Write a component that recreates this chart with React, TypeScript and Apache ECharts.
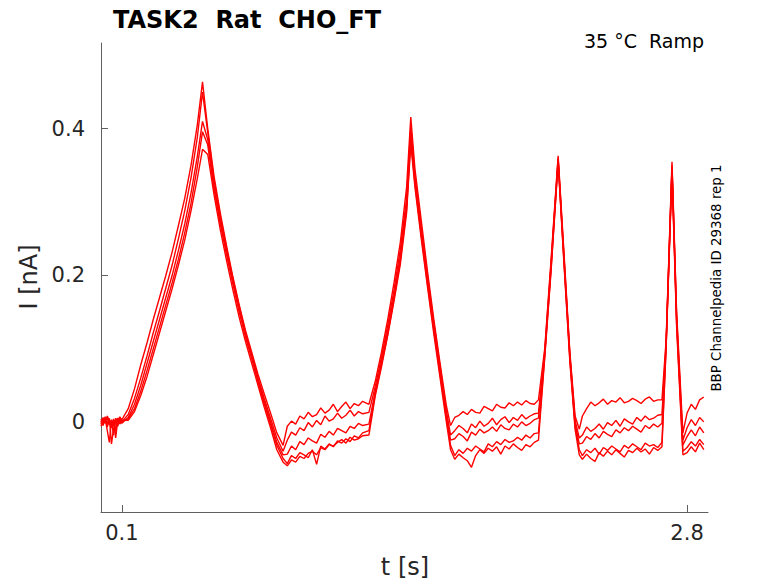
import { useEffect, useRef } from "react";
import * as echarts from "echarts";

// sample times [s], shared by all sweeps
const time = [
  0, 0.01, 0.02, 0.03, 0.04, 0.05, 0.06, 0.07, 0.08, 0.09, 0.1,
  0.13, 0.16, 0.19, 0.22, 0.25, 0.28, 0.31, 0.34, 0.37, 0.4, 0.43, 0.46, 0.485,
  0.51, 0.54, 0.57, 0.6, 0.63, 0.66, 0.69, 0.72, 0.75, 0.78, 0.81, 0.84, 0.87,
  0.89, 0.91, 0.93, 0.95, 0.97, 0.99, 1.01, 1.03, 1.05, 1.07, 1.09, 1.11, 1.13, 1.15, 1.17, 1.19, 1.21, 1.23, 1.25, 1.28,
  1.31, 1.34, 1.37, 1.4, 1.43, 1.46, 1.48,
  1.5, 1.53, 1.56, 1.59, 1.62, 1.65, 1.67,
  1.69, 1.71, 1.73, 1.75, 1.77, 1.79, 1.81, 1.83, 1.85, 1.87, 1.89, 1.91, 1.93, 1.95, 1.97, 1.99, 2.01, 2.03, 2.05, 2.07, 2.09,
  2.12, 2.15, 2.184,
  2.21, 2.24, 2.265, 2.285,
  2.3, 2.32, 2.34, 2.36, 2.38, 2.4, 2.42, 2.44, 2.46, 2.48, 2.5, 2.52, 2.54, 2.56, 2.58, 2.6, 2.62, 2.64, 2.66, 2.68,
  2.7, 2.728,
  2.75, 2.78,
  2.8, 2.82, 2.84, 2.86, 2.88,
];

// current of each sweep [pA]
const sweep1 = [
  2, -5, 4, -12, -28, 3, -6, 5, -2, 6, 3,
  18, 45, 78, 108, 140, 170, 200, 232, 268, 305, 350, 405, 464,
  400, 335, 285, 240, 198, 160, 125, 95, 65, 38, 12, -15, -32,
  -6, 1, -3, 8, 4, 13, 7, 10, 19, 12, 16, 24, 14, 21, 27, 18, 25, 22, 28, 24,
  55, 95, 140, 190, 245, 320, 416,
  345, 275, 205, 140, 80, 22, -5,
  6, 9, 14, 10, 17, 13, 12, 21, 18, 15, 24, 20, 19, 26, 22, 27, 23, 29, 25, 24, 30,
  100, 220, 363,
  240, 95, 8, -10,
  8, 18, 27, 22, 26, 31, 24, 29, 27, 33, 26, 28, 32, 29, 25, 31, 34, 28, 30, 30,
  112, 355,
  150, -15,
  12, 24, 17, 30, 34,
];

const sweep2 = [
  -3, 6, -2, 8, 1, -8, 4, -22, 2, 7, 0,
  10, 32, 60, 90, 122, 152, 183, 214, 250, 288, 333, 388, 450,
  395, 330, 280, 236, 195, 158, 122, 92, 60, 32, 5, -22, -40,
  -25, -14, -18, -8, -12, -1, -7, 2, -4, 8, 1, 4, 12, 5, 9, 16, 8, 14, 11, 13,
  48, 88, 132, 180, 235, 305, 402,
  335, 265, 198, 135, 75, 15, -18,
  -12, -5, -9, -15, -3, -8, 1, -6, -2, 5, -4, 3, 7, -1, 6, 2, 10, 4, 8, 11, 12,
  96, 216, 360,
  235, 92, 2, -22,
  -18, -7, -13, -9, -3, -10, -1, -5, 2, -6, 4, 0, -3, 6, 1, 8, 3, 5, 9, 10,
  108, 350,
  145, -25,
  -8, 3, -5, 6, 0,
];

const sweep3 = [
  1, -4, 7, -3, 5, -30, -10, 3, -6, 4, -2,
  6, 24, 50, 80, 110, 140, 170, 200, 234, 270, 312, 362, 410,
  385, 322, 275, 232, 192, 155, 120, 90, 58, 28, 0, -28, -45,
  -44, -33, -38, -27, -31, -22, -26, -29, -17, -21, -13, -18, -9, -12, -15, -6, -9, -2, -5, -3,
  42, 82, 125, 172, 226, 296, 392,
  330, 260, 192, 130, 70, 10, -25,
  -23, -16, -20, -26, -14, -18, -10, -15, -12, -7, -13, -4, -9, -11, -3, -7, 0, -5, -2, 3, 5,
  93, 212, 358,
  232, 90, -2, -30,
  -29, -20, -24, -16, -22, -13, -17, -20, -11, -15, -8, -12, -6, -10, -14, -5, -9, -3, -7, -2,
  106, 348,
  140, -32,
  -20, -11, -19, -7, -15,
];

const sweep4 = [
  -6, 3, -1, 5, -4, 2, -18, 1, 5, -3, 1,
  4, 18, 42, 70, 100, 130, 160, 190, 222, 258, 298, 348, 396,
  378, 318, 270, 228, 188, 150, 116, 86, 55, 25, -3, -32, -50,
  -57, -46, -50, -42, -45, -49, -38, -58, -33, -37, -30, -34, -26, -29, -23, -27, -19, -22, -15, -12,
  38, 78, 120, 168, 220, 290, 385,
  325, 255, 188, 125, 65, 5, -32,
  -46, -38, -43, -36, -40, -33, -37, -41, -30, -34, -27, -31, -24, -28, -26, -21, -25, -18, -22, -16, -15,
  90, 208, 356,
  228, 86, -6, -38,
  -46, -38, -42, -36, -44, -35, -39, -33, -37, -41, -32, -36, -30, -34, -38, -29, -33, -31, -35, -28,
  104, 345,
  135, -40,
  -35, -27, -33, -24, -31,
];

const sweep5 = [
  4, -2, 6, -7, 3, -4, 2, -12, 4, -1, 2,
  2, 14, 36, 62, 92, 122, 152, 182, 214, 248, 288, 332, 372,
  365, 310, 262, 220, 180, 143, 110, 80, 50, 20, -8, -38, -55,
  -60, -52, -55, -47, -50, -43, -40, -45, -35, -38, -31, -33, -28, -24, -29, -21, -25, -23, -19, -18,
  35, 75, 118, 165, 215, 285, 380,
  320, 250, 184, 120, 60, 0, -38,
  -51, -44, -49, -53, -62, -46, -38, -43, -36, -40, -34, -44, -33, -37, -30, -35, -39, -31, -34, -28, -25,
  88, 205, 354,
  225, 82, -10, -45,
  -51, -44, -50, -54, -42, -47, -40, -45, -38, -43, -48, -39, -42, -36, -41, -37, -44, -35, -39, -34,
  102, 340,
  130, -45,
  -42, -34, -41, -29, -38,
];

const sweeps = [sweep1, sweep2, sweep3, sweep4, sweep5];

const xTicks = [0.1, 2.8];
const yTicks = [0, 0.2, 0.4];

const FONT = "DejaVu Sans";
const AXIS = "#5f5f5f";
const LABEL = "#262626";

export default function App() {
  const ref = useRef<HTMLDivElement | null>(null);

  useEffect(() => {
    if (!ref.current) return;
    const chart = echarts.init(ref.current, undefined, { renderer: "svg" });

    const option: echarts.EChartsOption = {
      animation: false,
      backgroundColor: "#ffffff",
      grid: { left: 101, right: 70, top: 43, bottom: 71, outerBoundsMode: "none" } as any,
      xAxis: {
        type: "value",
        min: 0,
        max: 2.9,
        axisLine: { onZero: false, lineStyle: { color: AXIS, width: 1 } },
        axisTick: { inside: true, length: 7, lineStyle: { color: AXIS }, customValues: xTicks } as any,
        axisLabel: { customValues: xTicks, color: LABEL, fontFamily: FONT, fontSize: 21, margin: 10 } as any,
        splitLine: { show: false },
      },
      yAxis: {
        type: "value",
        min: -0.123,
        max: 0.517,
        axisLine: { show: true, onZero: false, lineStyle: { color: AXIS, width: 1 } },
        axisTick: { show: true, inside: true, length: 7, lineStyle: { color: AXIS }, customValues: yTicks } as any,
        axisLabel: { customValues: yTicks, color: LABEL, fontFamily: FONT, fontSize: 21, margin: 16 } as any,
        splitLine: { show: false },
      },
      series: sweeps.map((s, k) => ({
        type: "line",
        name: "sweep " + (k + 1),
        data: time.map((t, i) => [t, s[i] / 1000]),
        showSymbol: false,
        silent: true,
        lineStyle: { color: "#ff0000", width: 1.4 },
      })),
      graphic: [
        {
          type: "text",
          x: 113,
          y: 20,
          style: { text: "TASK2  Rat  CHO_FT", fill: "#000", font: `bold 24px '${FONT}'`, align: "left", verticalAlign: "middle" },
        },
        {
          type: "text",
          x: 704,
          y: 41,
          style: { text: "35 °C  Ramp", fill: "#000", font: `19px '${FONT}'`, align: "right", verticalAlign: "middle" },
        },
        {
          type: "text",
          x: 716,
          y: 278,
          rotation: Math.PI / 2,
          style: { text: "BBP Channelpedia ID 29368 rep 1", fill: "#000", font: `13.4px '${FONT}'`, align: "center", verticalAlign: "middle" },
        },
        {
          type: "text",
          x: 29,
          y: 277,
          rotation: Math.PI / 2,
          style: { text: "I [nA]", fill: LABEL, font: `24px '${FONT}'`, align: "center", verticalAlign: "middle" },
        },
        {
          type: "text",
          x: 405,
          y: 567,
          style: { text: "t [s]", fill: LABEL, font: `24px '${FONT}'`, align: "center", verticalAlign: "middle" },
        },
      ],
    };

    chart.setOption(option);
    return () => chart.dispose();
  }, []);

  return <div ref={ref} style={{ position: "fixed", left: 0, top: 0, width: 778, height: 583 }} />;
}
